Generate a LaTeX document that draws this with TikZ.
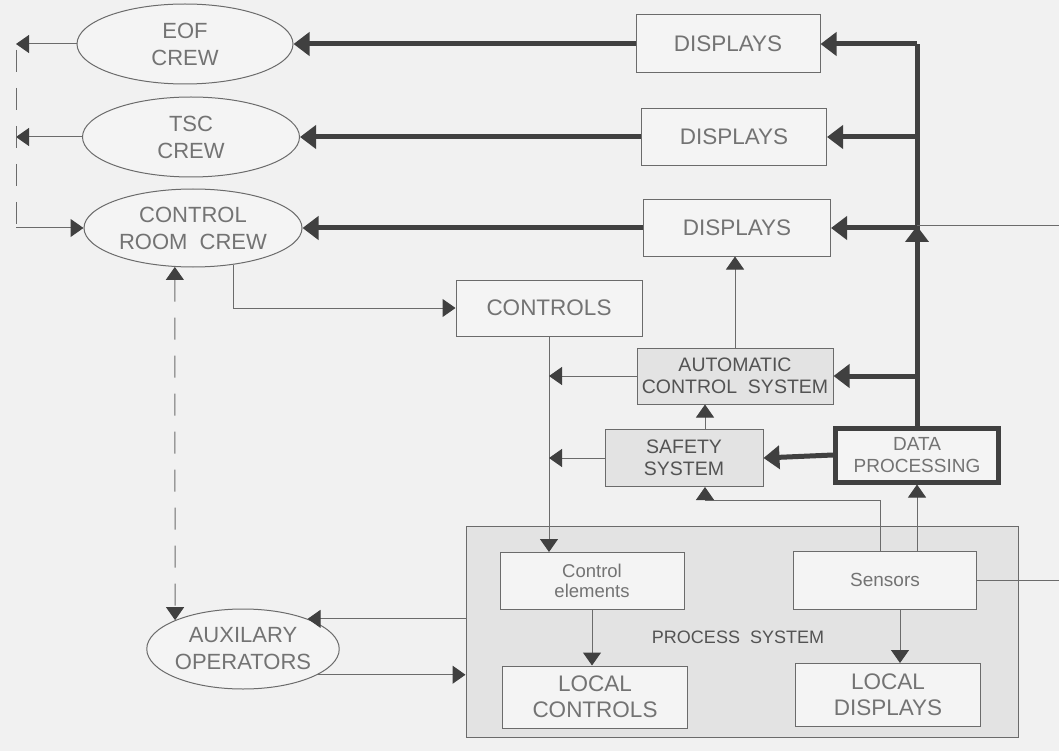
\documentclass[tikz,border=0pt]{standalone}
\usepackage{fontspec}
\setmainfont{Liberation Sans}
\usetikzlibrary{arrows.meta,positioning,shapes.geometric}
\definecolor{paperbg}{gray}{0.945}
\definecolor{inkgray}{gray}{0.42}
\definecolor{darkink}{gray}{0.25}
\definecolor{txtgray}{gray}{0.45}
\definecolor{shadebg}{gray}{0.89}
\definecolor{boxbg}{gray}{0.955}
\begin{document}
\begin{tikzpicture}[x=1pt, y=-1pt,
      crew/.style={draw=inkgray, ellipse, line width=1pt, fill=boxbg,
                   inner sep=0pt, text=txtgray, align=center,
                   font=\fontsize{22}{27}\selectfont},
      box/.style={draw=inkgray, fill=boxbg, line width=1pt,
                  minimum width=185pt, minimum height=57pt,
                  text=txtgray, align=center,
                  font=\fontsize{22.5}{26}\selectfont},
      sys/.style={box, fill=shadebg, text=darkink!90,
                  font=\fontsize{19.5}{22}\selectfont},
      arr/.style={-{Triangle[length=13pt,width=18pt,color=darkink]}, line width=1pt, draw=inkgray},
      thk/.style={-{Triangle[length=16pt,width=23pt]}, line width=5pt, draw=darkink},
      dsh/.style={arr, dash pattern=on 22pt off 16pt},
      thin/.style={line width=1pt, draw=inkgray}
  ]
    \useasboundingbox[fill=paperbg] (0,0) rectangle (1059,751);
    % process system frame first, everything else on top
    \node[draw=inkgray, fill=shadebg, line width=1pt,
          minimum width=552pt, minimum height=211pt] (proc) at (742,632) {};
    \node[text=darkink!90, font=\fontsize{18}{20}\selectfont] (plabel) at (738,637) {PROCESS\ \ SYSTEM};
    % crews
    \node[crew, minimum width=216pt, minimum height=80pt] (eof) at (185,44) {EOF\\ CREW};
    \node[crew, minimum width=217pt, minimum height=80pt] (tsc) at (191,137) {TSC\\ CREW};
    \node[crew, minimum width=218pt, minimum height=78pt] (crc) at (193,228) {CONTROL\\ ROOM\ \ CREW};
    \node[crew, minimum width=192pt, minimum height=80pt] (aux) at (243,649) {AUXILARY\\ OPERATORS};
    % displays and controls
    \node[box, minimum width=184pt, minimum height=58pt] (disp1) at (728,44) {DISPLAYS};
    \node[box] (disp2) at (734,137) {DISPLAYS};
    \node[box, minimum width=187pt, minimum height=56pt] (disp3) at (737,228) {DISPLAYS};
    \node[box, minimum width=186pt, minimum height=56pt] (ctrl) at (549,308) {CONTROLS};
    \node[sys, minimum width=196pt, minimum height=56pt] (auto) at (735,376) {AUTOMATIC\\ CONTROL\ \ SYSTEM};
    \node[sys, minimum width=158pt, minimum height=57pt] (saf) at (684,458) {SAFETY\\ SYSTEM};
    \node[box, draw=darkink, line width=5pt, minimum width=163pt, minimum height=54pt,
          font=\fontsize{19}{22}\selectfont] (dp) at (917,455) {DATA\\ PROCESSING};
    % inside the process system
    \node[box, minimum width=184pt, font=\fontsize{18.5}{20}\selectfont] (celem) at (592,581) {Control\\ elements};
    \node[box, minimum width=183pt, minimum height=58pt, font=\fontsize{19}{20}\selectfont] (sens) at (885,580) {Sensors};
    \node[box, minimum height=62pt] (lctrl) at (595,697) {LOCAL\\ CONTROLS};
    \node[box, minimum height=63pt] (ldisp) at (888,695) {LOCAL\\ DISPLAYS};
    % free ends
    \coordinate (fbtop) at (16,44);
    \coordinate (extR) at (1059,226);

    % data bus
    \draw[line width=5pt, draw=darkink] (dp.north) -- (dp.north |- disp1.east);
    \draw[thk] (dp.north |- disp1.east) -- (disp1.east);
    \draw[thk] (dp.north |- disp2.east) -- (disp2.east);
    \draw[thk] (dp.north |- disp3.east) -- (disp3.east);
    \draw[thk] (dp.north |- auto.east) -- (auto.east);
    \draw[thk] (dp.north) -- (dp.north |- extR);
    \draw[thin] (extR) -- (extR -| dp.north);
    \draw[thk] (dp.west) -- (saf.east);
    \draw[thk] (disp1.west) -- (eof.east);
    \draw[thk] (disp2.west) -- (tsc.east);
    \draw[thk] (disp3.west) -- (crc.east);

    % feedback on the left
    \draw[arr] (eof.west) -- (fbtop);
    \draw[arr] (tsc.west) -- (tsc.west -| fbtop);
    \draw[thin, dash pattern=on 22pt off 16pt] ([yshift=-6pt]fbtop) -- (fbtop |- crc.west);
    \draw[arr] (fbtop |- crc.west) -- (crc.west);
    \draw[dsh, {Triangle[length=13pt,width=18pt,color=darkink]}-{Triangle[length=13pt,width=18pt,color=darkink]}] (crc.-115) -- (aux.157);

    % control paths
    \draw[arr] (crc.-42) |- (ctrl.west);
    \draw[arr] (ctrl.south) -- (ctrl.south |- celem.north);
    \draw[arr] (auto.west) -- (auto.west -| ctrl.south);
    \draw[arr] (saf.west) -- (saf.west -| ctrl.south);
    \draw[arr] ([xshift=21pt]saf.north) -- ([xshift=21pt]saf.north |- auto.south);
    \draw[arr] (auto.north) -- (auto.north |- disp3.south);
    \draw[arr] ([xshift=-5pt]sens.north) -- ++(0,-50) -| ([xshift=21pt]saf.south);
    \draw[arr] (dp.south |- sens.north) -- (dp.south);
    \draw[thin] (sens.east) -- (sens.east -| extR);
    \draw[arr] (celem.south) -- (celem.south |- lctrl.north);
    \draw[arr] ([xshift=15pt]sens.south) -- ([xshift=15pt]sens.south |- ldisp.north);
    \draw[arr] (proc.west |- aux.25) -- (aux.25);
    \draw[arr] (aux.-19) -- (aux.-19 -| proc.west);
\end{tikzpicture}
\end{document}
